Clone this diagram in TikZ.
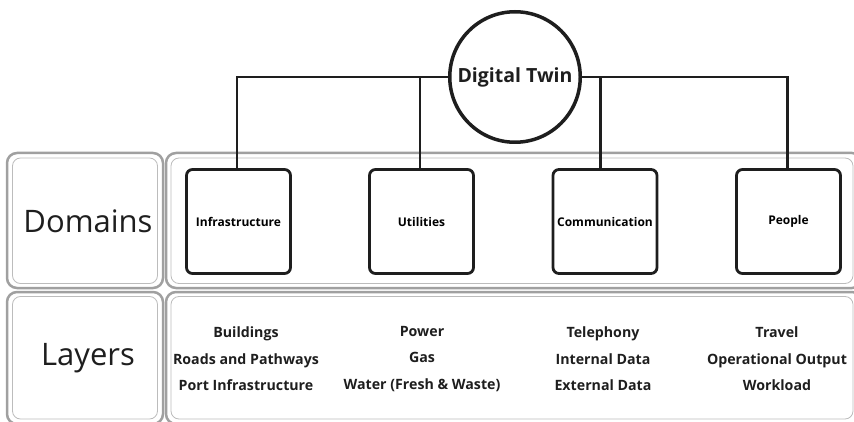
\documentclass[tikz,border=0pt]{standalone}
\usepackage{fontspec}
\setmainfont{Open Sans}
\usetikzlibrary{positioning}
\definecolor{panelgray}{RGB}{160,160,160}
\definecolor{innergray}{RGB}{188,188,188}
\definecolor{inkblack}{RGB}{30,30,30}
\tikzset{
  domainbox/.style={
    draw=inkblack, line width=2.8pt, rounded corners=6pt,
    minimum width=104pt, minimum height=104pt, inner sep=1pt,
    font=\bfseries\fontsize{12}{14}\selectfont
  },
  layertext/.style={
    align=center, text=inkblack,
    font=\bfseries\fontsize{14.2}{26.5}\selectfont
  },
  paneltitle/.style={font=\fontsize{31}{37}\selectfont, text=inkblack},
  link/.style={draw=inkblack, line width=2.6pt},
  outerpanel/.style={draw=panelgray, line width=2.5pt, rounded corners=10pt},
  innerpanel/.style={draw=innergray, line width=0.8pt, rounded corners=8pt}
}

\begin{document}
\begin{tikzpicture}[x=1pt, y=-1pt]
    \useasboundingbox (0,0) rectangle (854,422);
    % panels
    \draw[outerpanel] (7,153) rectangle (163,288);
    \draw[innerpanel] (12.5,158) rectangle (157.5,283.5);
    \draw[outerpanel] (166,153) rectangle (862,288);
    \draw[innerpanel] (171,158) rectangle (853,283.5);
    \draw[outerpanel] (7,292) rectangle (163,424);
    \draw[innerpanel] (12.5,296.5) rectangle (157.5,419);
    \draw[outerpanel] (166,292) rectangle (862,424);
    \draw[innerpanel] (171,296.5) rectangle (853,419);
    \node[paneltitle] (DomainsLbl) at (88,221) {Domains};
    \node[paneltitle] (LayersLbl) at (88,358) {Layers};
    % digital twin and domains
    \node[circle, draw=inkblack, line width=3.5pt, minimum size=130.5pt, inner sep=0pt,
      font=\bfseries\fontsize{19.5}{23}\selectfont, text=inkblack] (Twin) at (515,77) {Digital Twin};
    \node[domainbox] (Infra) at (238.5,221.5) {Infrastructure};
    \node[domainbox, on grid, right=183pt of Infra] (Util) {Utilities};
    \node[domainbox, on grid, right=183.5pt of Util] (Comm) {Communication};
    \node[domainbox, on grid, right=183.5pt of Comm] (People) {People};
    \draw[link] (Twin.west) -| ([xshift=-1.5pt]Infra.north);
    \draw[link] (Twin.east) -| ([xshift=-1pt]People.north);
    \draw[link] ([xshift=-1.5pt]Util.north) -- ([xshift=-1.5pt]Util.north |- Twin.center);
    \draw[link] ([xshift=-4.5pt]Comm.north) -- ([xshift=-4.5pt]Comm.north |- Twin.center);
    % layers
    \node[layertext] (InfraLayers) at (246,359) {Buildings\\Roads and Pathways\\Port Infrastructure};
    \node[layertext] (UtilLayers) at (422,359) {Power\\Gas\\Water (Fresh \& Waste)};
    \node[layertext] (CommLayers) at (603,359) {Telephony\\Internal Data\\External Data};
    \node[layertext] (PeopleLayers) at (777,359) {Travel\\Operational Output\\Workload};
\end{tikzpicture}
\end{document}
